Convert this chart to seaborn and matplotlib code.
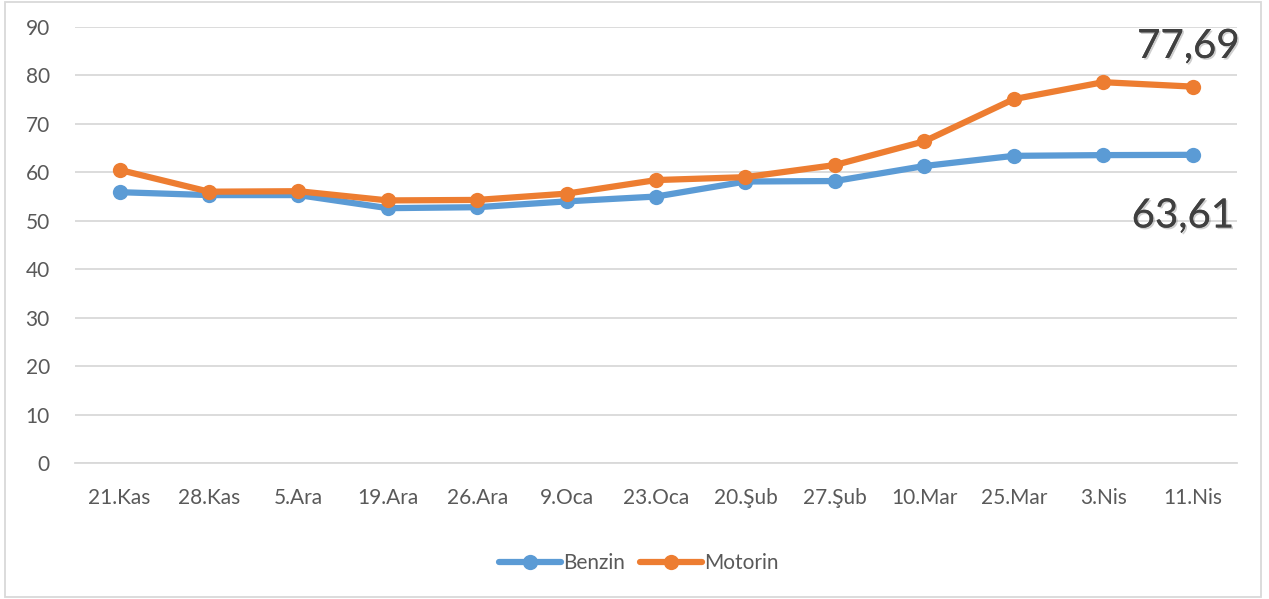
import matplotlib
matplotlib.use("Agg")
import matplotlib.pyplot as plt
import matplotlib.patheffects as pe
from matplotlib.patches import Rectangle
import numpy as np
import pandas as pd
import seaborn as sns

dates = ["21.Kas", "28.Kas", "5.Ara", "19.Ara", "26.Ara", "9.Oca", "23.Oca",
         "20.Şub", "27.Şub", "10.Mar", "25.Mar", "3.Nis", "11.Nis"]
benzin = [55.9, 55.3, 55.3, 52.6, 52.8, 54.0, 55.0, 58.1, 58.2, 61.3, 63.4, 63.55, 63.61]
motorin = [60.5, 56.0, 56.1, 54.2, 54.3, 55.6, 58.4, 59.0, 61.5, 66.4, 75.1, 78.6, 77.69]

df = pd.DataFrame({"idx": list(range(len(dates))) * 2,
                   "value": benzin + motorin,
                   "series": ["Benzin"] * len(dates) + ["Motorin"] * len(dates)})

sns.set_style("white")
plt.rcParams["font.family"] = ["Lato", "DejaVu Sans"]
text_col = "#595959"
palette = {"Benzin": "#5B9BD5", "Motorin": "#ED7D31"}

fig = plt.figure(figsize=(12.69, 5.99), dpi=100)
ax = fig.add_axes([0.059, 0.227, 0.916, 0.728])

sns.lineplot(data=df, x="idx", y="value", hue="series", palette=palette,
             marker="o", markersize=11, markeredgewidth=0, linewidth=4.5,
             sort=False, ax=ax)

ax.set_xlim(-0.5, len(dates) - 0.5)
ax.set_ylim(0, 90)
ax.set_yticks(range(0, 91, 10))
ax.yaxis.grid(True, color="#D9D9D9", linewidth=1.3)
ax.set_axisbelow(True)
for s in ["top", "right", "left"]:
    ax.spines[s].set_visible(False)
ax.spines["bottom"].set_color("#D9D9D9")
ax.spines["bottom"].set_linewidth(1.3)

ax.set_xticks(range(len(dates)))
ax.set_xticklabels(dates)
ax.set_xticks(np.arange(-0.5, len(dates), 1.0), minor=True)
ax.tick_params(axis="x", which="major", length=0, pad=18, labelsize=15, colors=text_col)
ax.tick_params(axis="x", which="minor", length=7, width=1.3, color="#D9D9D9", direction="out")
ax.tick_params(axis="y", length=0, pad=18, labelsize=15, colors=text_col)
ax.set_xlabel("")
ax.set_ylabel("")

shadow = [pe.withSimplePatchShadow(offset=(1.2, -1.2), alpha=0.2), pe.Normal()]
ax.annotate(f"{motorin[-1]:.2f}".replace(".", ","), xy=(len(dates) - 1, 90),
            xytext=(-3, -14), textcoords="offset points", ha="center", va="center",
            fontsize=29, color="#404040", path_effects=shadow)
ax.annotate(f"{benzin[-1]:.2f}".replace(".", ","), xy=(len(dates) - 1, 63.61),
            xytext=(-7, -44), textcoords="offset points", ha="center", va="center",
            fontsize=29, color="#404040", path_effects=shadow)

leg = ax.legend(loc="center", bbox_to_anchor=(0.485, -0.23), ncol=2, frameon=False,
                fontsize=15, handlelength=3, handletextpad=0.1, columnspacing=0.7)
for t in leg.get_texts():
    t.set_color(text_col)

fig.patches.append(Rectangle((0.004, 0.003), 0.99, 0.994, transform=fig.transFigure,
                             fill=False, edgecolor="#D9D9D9", linewidth=1.3))

fig.savefig("out.png", dpi=100)
